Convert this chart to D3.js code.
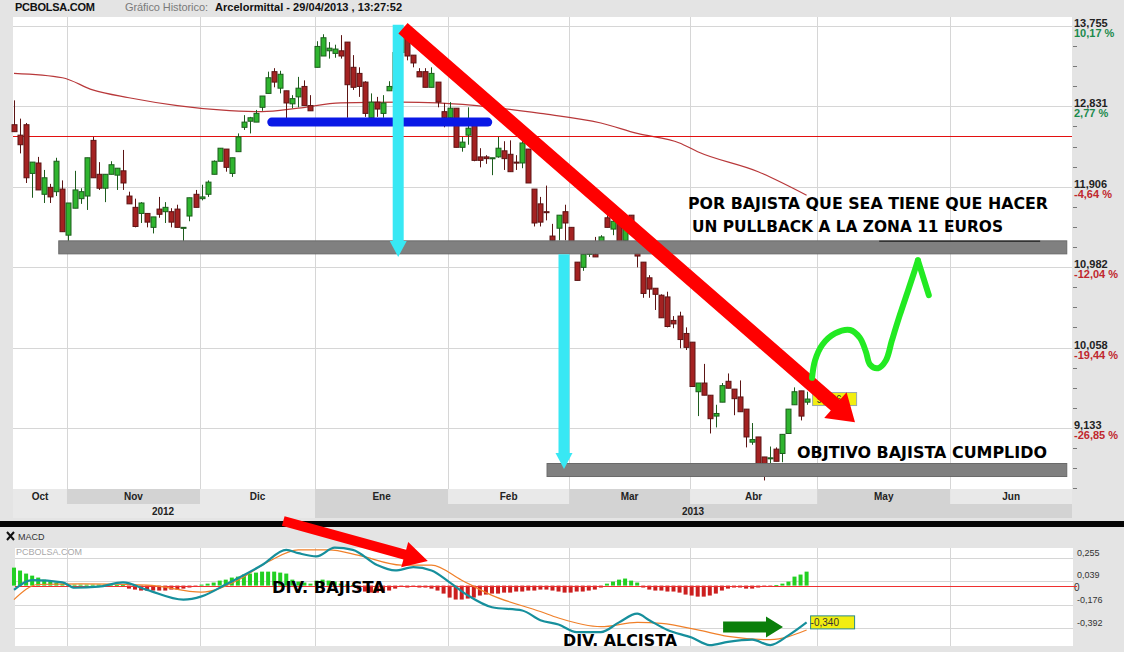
<!DOCTYPE html>
<html>
<head>
<meta charset="utf-8">
<title>Arcelormittal - PCBOLSA</title>
<script src="https://cdn.jsdelivr.net/npm/d3@7"></script>
<style>
body { margin: 0; background: #e4e4e4; }
svg { display: block; font-family: "Liberation Sans", Arial, sans-serif; }
</style>
</head>
<body>
<svg id="chart" width="1124" height="652"></svg>
<script>
// daily candles, one per trading day from 19/10/2012 to 29/04/2013
var opens = [12.62,12.50,12.62,12.06,12.18,11.82,11.90,11.85,11.88,11.35,11.66,11.77,11.80,12.44,12.05,11.89,12.05,12.04,12.09,11.80,
  11.67,11.60,11.60,11.44,11.65,11.62,11.62,11.65,11.43,11.57,11.82,11.77,11.82,12.05,12.20,12.34,12.06,12.31,12.59,12.66,
  12.65,12.82,12.98,13.23,13.04,13.01,12.86,12.94,13.06,12.84,13.28,13.41,13.47,13.44,13.47,13.57,13.28,13.21,13.11,12.70,
  12.88,12.75,13.01,13.04,13.45,13.62,13.42,13.23,13.23,13.05,13.11,12.77,12.70,12.81,12.36,12.50,12.62,12.25,12.25,12.23,
  12.25,12.32,12.28,12.19,12.18,12.34,11.88,11.71,11.62,11.34,11.43,11.62,11.44,11.04,10.98,11.13,11.13,11.26,11.55,11.42,
  11.49,11.29,11.58,11.14,11.04,10.86,10.74,10.66,10.64,10.37,10.42,10.22,10.12,9.55,9.65,9.51,9.27,9.43,9.67,9.58,
  9.49,9.35,8.97,9.03,8.80,8.78,8.89,8.84,9.07,9.40,9.56,9.43];
var highs = [12.90,12.69,12.64,12.19,12.25,12.10,11.94,12.24,11.98,11.72,12.09,11.89,12.24,12.48,12.19,12.05,12.20,12.12,12.33,11.85,
  11.77,11.73,11.60,11.56,11.79,11.73,11.66,11.70,11.44,11.78,11.87,11.93,11.98,12.21,12.35,12.34,12.24,12.52,12.73,12.71,
  12.79,12.95,13.23,13.27,13.24,13.01,12.96,13.17,13.13,12.96,13.58,13.66,13.57,13.54,13.65,13.57,13.42,13.28,13.12,12.98,
  12.94,12.96,13.12,13.50,13.755,13.65,13.42,13.27,13.27,13.28,13.11,12.87,12.88,12.81,12.48,12.82,12.62,12.35,12.27,12.24,
  12.48,12.43,12.44,12.27,12.44,12.34,11.88,11.79,11.92,11.48,11.58,11.70,11.44,11.04,11.13,11.25,11.33,11.35,11.58,11.66,
  11.49,11.60,11.58,11.14,11.04,10.89,10.74,10.67,10.70,10.42,10.47,10.29,10.12,9.65,9.87,9.51,9.40,9.65,9.76,9.58,
  9.68,9.35,9.19,9.03,8.80,8.92,8.91,9.06,9.35,9.60,9.56,9.55];
var lows = [12.54,12.29,11.95,11.78,11.87,11.72,11.72,11.80,11.39,11.26,11.66,11.71,11.64,12.01,11.87,11.73,12.05,11.87,11.87,11.71,
  11.44,11.49,11.44,11.37,11.55,11.49,11.44,11.44,11.26,11.51,11.67,11.75,11.79,12.05,12.20,12.08,12.02,12.31,12.56,12.52,
  12.65,12.78,12.98,13.05,12.98,12.67,12.81,12.82,12.84,12.78,13.28,13.41,13.38,13.39,13.38,12.70,13.02,12.94,12.71,12.70,
  12.71,12.70,13.01,13.00,13.40,13.36,13.28,13.17,13.05,13.05,12.82,12.59,12.70,12.36,12.31,12.39,12.20,12.13,12.17,12.04,
  12.24,12.10,12.08,12.10,12.12,11.95,11.45,11.45,11.52,11.27,11.29,11.29,11.26,10.83,10.94,11.10,11.10,11.26,11.44,11.35,
  11.26,11.29,11.37,10.98,10.63,10.63,10.49,10.40,10.29,10.28,10.05,10.03,9.61,9.27,9.51,9.07,9.14,9.43,9.59,9.28,
  9.32,8.91,8.94,8.68,8.53,8.71,8.75,8.74,9.07,9.40,9.22,9.40];
var closes = [12.54,12.39,12.01,12.19,11.87,12.01,11.79,12.20,11.39,11.72,11.87,11.85,12.24,12.01,11.89,12.05,12.16,12.12,11.95,11.71,
  11.45,11.72,11.50,11.56,11.59,11.67,11.50,11.44,11.44,11.78,11.67,11.79,11.96,12.20,12.35,12.13,12.24,12.48,12.65,12.70,
  12.75,12.95,13.16,13.11,13.20,12.87,12.92,13.04,12.84,12.78,13.52,13.62,13.50,13.49,13.41,13.08,13.05,13.06,12.75,12.88,
  12.80,12.87,13.06,13.45,13.63,13.41,13.33,13.17,13.05,13.21,12.88,12.70,12.81,12.36,12.42,12.58,12.21,12.21,12.23,12.24,
  12.35,12.23,12.08,12.18,12.41,11.95,11.49,11.50,11.61,11.29,11.58,11.49,11.26,10.83,11.13,11.21,11.10,11.33,11.44,11.51,
  11.26,11.56,11.37,11.11,10.68,10.73,10.67,10.40,10.30,10.33,10.15,10.06,9.61,9.65,9.51,9.24,9.30,9.62,9.59,9.47,
  9.32,9.03,9.00,8.68,8.71,8.79,8.75,9.06,9.35,9.55,9.27,9.466];

// long moving average, read at a few days
var maIdx = [0, 8, 13, 19, 27, 34, 41, 47, 54, 64, 70, 79, 87, 97, 103, 110, 113, 123, 131];
var maVal = [13.21, 13.16, 13.02, 12.93, 12.84, 12.79, 12.77, 12.81, 12.87, 12.88, 12.87, 12.82, 12.75, 12.64, 12.52, 12.41, 12.31, 12.08, 11.81];

var priceTicks = [13.755, 12.831, 11.906, 10.982, 10.058, 9.133];
var refPrice = 12.485;   // base of the % labels (red line)
var lastPrice = 9.466;

var monthNames = ["Oct", "Nov", "Dic", "Ene", "Feb", "Mar", "Abr", "May", "Jun"];
var monthStart = [-0.17, 9, 31, 50, 72, 92, 112, 133, 155];
var yearNames = ["2012", "2013"];
var yearStart = [-0.17, 50];

// MACD panel
var macdIdx = [0,3,8,10,14,18,22,28,31,35,41,45,47,50,53,56,60,63,66,69,72,75,79,84,87,90,93,97,100,103,105,108,112,115,118,122,125,128,131];
var macdVal = [-0.04,0.05,0.03,-0.02,-0.01,0.03,-0.04,-0.13,-0.10,0.01,0.19,0.33,0.30,0.27,0.35,0.33,0.19,0.14,0.17,0.14,0.03,-0.09,-0.20,-0.23,-0.32,-0.36,-0.43,-0.43,-0.34,-0.26,-0.32,-0.41,-0.48,-0.55,-0.52,-0.50,-0.55,-0.46,-0.34];
var signalIdx = [0,4,11,22,31,37,42,47,52,57,64,69,74,79,87,90,97,103,107,113,118,125,131];
var signalVal = [-0.13,0.01,0.015,0.005,-0.06,0.05,0.22,0.33,0.33,0.28,0.19,0.19,0.05,-0.09,-0.24,-0.30,-0.38,-0.34,-0.35,-0.41,-0.47,-0.50,-0.41];
var histVals = [0.166,0.139,0.111,0.092,0.074,0.055,0.037,0.028,0.018,
  0.009,0.009,0.009,0.009,0.009,0.009,0.009,0.009,0.004,0.004,
  -0.028,-0.037,-0.046,-0.046,-0.046,-0.046,-0.046,-0.037,-0.037,-0.028,-0.018,-0.009,
  0.009,0.018,0.028,0.046,0.055,0.074,0.083,0.102,0.111,0.120,0.129,0.129,0.129,0.120,0.111,
  0.055,0.037,0.028,0.018,
  0.046,0.055,0.046,0.037,
  0.018,0.009,0.004,
  -0.037,-0.055,-0.065,-0.065,-0.055,-0.046,-0.028,
  -0.009,-0.018,-0.009,-0.018,-0.018,-0.028,
  -0.046,-0.074,-0.111,-0.129,-0.129,-0.120,-0.111,-0.092,-0.083,
  -0.074,-0.074,-0.065,-0.065,-0.055,-0.055,-0.046,-0.046,-0.037,-0.037,-0.046,-0.055,
  -0.065,-0.065,-0.055,-0.055,-0.046,-0.037,-0.018,
  0.018,0.037,0.055,0.065,0.046,0.028,
  -0.018,-0.037,-0.046,-0.046,-0.055,-0.055,-0.065,
  -0.083,-0.092,-0.102,-0.102,-0.092,-0.074,
  -0.046,-0.028,-0.018,-0.018,-0.028,-0.028,-0.018,-0.009,-0.009,
  0.004,0.018,0.037,0.083,0.102,0.129];
var macdTicks = [0.255, 0.039, -0.176, -0.392];
var lastMacd = -0.340;

// hand drawn marks, in (day index, price) units
var blueBar = {from: 42.6, to: 78.3, price: 12.65};
var greyBars = [{from: 7.4, to: 174, price: 11.21}, {from: 88.1, to: 174, price: 8.65}];
var cyanArrows = [{at: 63.5, from: 13.77, to: 11.10}, {at: 90.9, from: 11.13, to: 8.66}];
var redArrow = {i1: 64.3, p1: 13.73, i2: 139, p2: 9.20};
var greenIdx = [131.9, 132.4, 133.6, 135.7, 138.2, 139.8, 140.8, 141.5, 142.8, 144.1, 145.1, 146.4, 147.8, 148.8, 149.4];
var greenPrice = [9.71, 9.91, 10.09, 10.22, 10.26, 10.17, 10.01, 9.86, 9.82, 9.91, 10.14, 10.43, 10.72, 10.93, 11.06];

var svg = d3.select('#chart');
var plotL = 13, plotR = 1072, plotT = 17, plotB = 489;
var x = d3.scaleLinear().domain([0, 131]).range([14, 806.6]);
var y = d3.scaleLinear().domain([9.133, 13.755]).range([428, 26]);
var mT = 548, mB = 646, mL = 15, mR = 1073;
var yM = d3.scaleLinear().domain([-0.392, 0.255]).range([628, 558]);
var fmt = function(v, n) { return v.toFixed(n).replace('.', ','); };

svg.append('rect').attr('width', 1124).attr('height', 652).attr('fill', '#e4e4e4');

// header
svg.append('text').attr('x', 15).attr('y', 11).attr('font-size', 11).attr('font-weight', 'bold')
  .attr('fill', '#111').attr('textLength', 80).text('PCBOLSA.COM');
svg.append('text').attr('x', 125).attr('y', 11).attr('font-size', 11).attr('fill', '#7a7a7a')
  .attr('textLength', 83).text('Gráfico Historico:');
svg.append('text').attr('x', 215).attr('y', 11).attr('font-size', 11).attr('font-weight', 'bold')
  .attr('fill', '#111').attr('textLength', 187).text('Arcelormittal - 29/04/2013 , 13:27:52');

// price plot
svg.append('rect').attr('x', plotL).attr('y', plotT).attr('width', plotR - plotL).attr('height', plotB - plotT).attr('fill', '#fff');

var grid = svg.append('g').attr('stroke', '#d6d6d6').attr('stroke-width', 1);
monthStart.slice(1).forEach(function(m) {
  var gx = Math.round(x(m - 0.25)) + 0.5;
  grid.append('line').attr('x1', gx).attr('x2', gx).attr('y1', plotT).attr('y2', plotB);
});
priceTicks.forEach(function(p) {
  var gy = Math.round(y(p)) + 0.5;
  grid.append('line').attr('x1', plotL).attr('x2', plotR).attr('y1', gy).attr('y2', gy);
});

// right axis
var axis = svg.append('g');
var step = priceTicks[0] - priceTicks[1];
for (var k = 0; k < 27; k++) {
  var tp = priceTicks[0] - k * step / 4;
  var ty = Math.round(y(tp)) + 0.5;
  if (ty > plotB) break;
  if (k % 4 !== 0) axis.append('line').attr('x1', plotR + 1).attr('x2', plotR + 5).attr('y1', ty).attr('y2', ty).attr('stroke', '#777');
}
priceTicks.forEach(function(p) {
  var pct = (p / refPrice - 1) * 100;
  axis.append('text').attr('x', plotR + 2).attr('y', y(p) + 1).attr('font-size', 11).attr('font-weight', 'bold')
    .attr('fill', '#222').text(fmt(p, 3));
  axis.append('text').attr('x', plotR + 2).attr('y', y(p) + 11).attr('font-size', 11).attr('font-weight', 'bold')
    .attr('fill', pct >= 0 ? '#1b8a4c' : '#c0272d').text(fmt(pct, 2) + ' %');
});

// month / year band
var band = svg.append('g');
monthNames.forEach(function(name, k) {
  var x0 = k === 0 ? plotL : x(monthStart[k] - 0.25);
  var x1 = k === monthNames.length - 1 ? plotR : x(monthStart[k + 1] - 0.25);
  band.append('rect').attr('x', x0).attr('y', plotB).attr('width', x1 - x0).attr('height', 15)
    .attr('fill', k % 2 ? '#d3d3d3' : '#e9e9e9');
  band.append('text').attr('x', (x0 + x1) / 2).attr('y', plotB + 11).attr('text-anchor', 'middle')
    .attr('font-size', 10).attr('font-weight', 'bold').attr('fill', '#222').text(name);
});
yearNames.forEach(function(name, k) {
  var x0 = k === 0 ? plotL : x(yearStart[k] - 0.25);
  var x1 = k === yearNames.length - 1 ? plotR : x(yearStart[k + 1] - 0.25);
  band.append('rect').attr('x', x0).attr('y', plotB + 15).attr('width', x1 - x0).attr('height', 14)
    .attr('fill', k % 2 ? '#d3d3d3' : '#e9e9e9');
});
band.append('text').attr('x', 163).attr('y', plotB + 26).attr('text-anchor', 'middle').attr('font-size', 10)
  .attr('font-weight', 'bold').attr('fill', '#222').text(yearNames[0]);
band.append('text').attr('x', 693).attr('y', plotB + 26).attr('text-anchor', 'middle').attr('font-size', 10)
  .attr('font-weight', 'bold').attr('fill', '#222').text(yearNames[1]);

// moving average and reference line
var maPts = maIdx.map(function(d, k) { return [x(d), y(maVal[k])]; });
svg.append('path').attr('d', d3.line().curve(d3.curveMonotoneX)(maPts))
  .attr('fill', 'none').attr('stroke', '#b8383a').attr('stroke-width', 1.2);
svg.append('line').attr('x1', plotL).attr('x2', plotR).attr('y1', Math.round(y(refPrice)) + 0.5).attr('y2', Math.round(y(refPrice)) + 0.5)
  .attr('stroke', '#e31010').attr('stroke-width', 1);

// candles
var candles = svg.append('g');
opens.forEach(function(o, i) {
  var c = closes[i], up = c >= o;
  var cx = Math.round(x(i)) + 0.5;
  var edge = up ? '#1d5c1d' : '#5c1414';
  candles.append('line').attr('x1', cx).attr('x2', cx).attr('y1', y(highs[i])).attr('y2', y(lows[i]))
    .attr('stroke', edge).attr('stroke-width', 1);
  var top = y(Math.max(o, c)), h = Math.max(1, y(Math.min(o, c)) - top);
  candles.append('rect').attr('x', cx - 2.5).attr('y', top).attr('width', 5).attr('height', h)
    .attr('fill', up ? '#2fb52f' : '#a42222').attr('stroke', edge).attr('stroke-width', 1);
});

// last price tag
svg.append('rect').attr('x', x(131) + 6).attr('y', y(lastPrice) - 6.5).attr('width', 44).attr('height', 13)
  .attr('fill', '#f2ee10').attr('stroke', '#9aa').attr('stroke-width', 1);
svg.append('text').attr('x', x(131) + 10).attr('y', y(lastPrice) + 4).attr('font-size', 10).attr('fill', '#333')
  .text(fmt(lastPrice, 3));

// ---- hand drawn annotations ----
function arrowPath(x1, y1, x2, y2, w, hl, hw) {
  var dx = x2 - x1, dy = y2 - y1, len = Math.sqrt(dx * dx + dy * dy);
  var ux = dx / len, uy = dy / len, nx = -uy, ny = ux;
  var bx = x2 - ux * hl, by = y2 - uy * hl;
  var pts = [
    [x1 + nx * w / 2, y1 + ny * w / 2], [bx + nx * w / 2, by + ny * w / 2], [bx + nx * hw / 2, by + ny * hw / 2],
    [x2, y2], [bx - nx * hw / 2, by - ny * hw / 2], [bx - nx * w / 2, by - ny * w / 2], [x1 - nx * w / 2, y1 - ny * w / 2]
  ];
  return 'M' + pts.map(function(p) { return p[0].toFixed(1) + ',' + p[1].toFixed(1); }).join('L') + 'Z';
}

var ann = svg.append('g');
ann.append('line').attr('x1', x(blueBar.from)).attr('x2', x(blueBar.to)).attr('y1', y(blueBar.price)).attr('y2', y(blueBar.price))
  .attr('stroke', '#0a18e6').attr('stroke-width', 9).attr('stroke-linecap', 'round');
greyBars.forEach(function(b) {
  ann.append('rect').attr('x', x(b.from)).attr('y', y(b.price) - 6.5).attr('width', x(b.to) - x(b.from)).attr('height', 13)
    .attr('fill', '#808080').attr('stroke', '#6a6a6a').attr('stroke-width', 1);
});
ann.append('line').attr('x1', x(143)).attr('x2', x(169.6)).attr('y1', y(11.28)).attr('y2', y(11.28))
  .attr('stroke', '#333').attr('stroke-width', 1.5);
cyanArrows.forEach(function(a) {
  ann.append('path').attr('d', arrowPath(x(a.at), y(a.from), x(a.at), y(a.to), 11, 16, 17)).attr('fill', '#38e8f4');
});
ann.append('path').attr('d', arrowPath(x(redArrow.i1), y(redArrow.p1), x(redArrow.i2), y(redArrow.p2), 14, 26, 34))
  .attr('fill', '#ff0000');

var gPts = greenIdx.map(function(d, k) { return [x(d), y(greenPrice[k])]; });
ann.append('path').attr('d', d3.line().curve(d3.curveCatmullRom)(gPts)).attr('fill', 'none')
  .attr('stroke', '#22ea22').attr('stroke-width', 6).attr('stroke-linecap', 'round').attr('stroke-linejoin', 'round');
ann.append('path').attr('d', d3.line()([[x(149.4), y(11.06)], [x(151.2), y(10.66)]])).attr('fill', 'none')
  .attr('stroke', '#22ea22').attr('stroke-width', 6).attr('stroke-linecap', 'round');

function bigText(t, tx, ty, w) {
  svg.append('text').attr('x', tx).attr('y', ty).attr('font-family', '"DejaVu Sans", sans-serif').attr('font-weight', 'bold')
    .attr('font-size', 15).attr('fill', '#000').attr('textLength', w).attr('lengthAdjust', 'spacingAndGlyphs').text(t);
}
bigText('POR BAJISTA QUE SEA TIENE QUE HACER', 688, 209, 360);
bigText('UN PULLBACK A LA ZONA 11 EUROS', 692, 232, 311);
bigText('OBJTIVO BAJISTA CUMPLIDO', 797, 458, 250);

// ---- MACD panel ----
svg.append('rect').attr('x', 0).attr('y', 521).attr('width', 1124).attr('height', 6).attr('fill', '#050505');
svg.append('rect').attr('x', mL).attr('y', mT).attr('width', mR - mL).attr('height', mB - mT).attr('fill', '#fff');
var mg = svg.append('g').attr('stroke', '#d6d6d6');
monthStart.slice(1).forEach(function(m) {
  var gx = Math.round(x(m - 0.25)) + 0.5;
  mg.append('line').attr('x1', gx).attr('x2', gx).attr('y1', mT).attr('y2', mB);
});
macdTicks.forEach(function(v) {
  var gy = Math.round(yM(v)) + 0.5;
  mg.append('line').attr('x1', mL).attr('x2', mR).attr('y1', gy).attr('y2', gy);
});
macdTicks.forEach(function(v) {
  var off = v === 0.039 ? -3 : -2;
  svg.append('text').attr('x', mR + 4).attr('y', yM(v) + off).attr('font-size', 9).attr('fill', '#333').text(fmt(v, 3));
});
svg.append('text').attr('x', mR + 1).attr('y', yM(0) + 5).attr('font-size', 10).attr('fill', '#333').text('0');

svg.append('text').attr('x', 18).attr('y', 540).attr('font-size', 9).attr('fill', '#333').text('MACD');
svg.append('path').attr('d', 'M7,532L14,540M14,532L7,540').attr('stroke', '#111').attr('stroke-width', 2);
svg.append('text').attr('x', 16).attr('y', 555).attr('font-size', 9).attr('fill', '#a8a8a8').text('PCBOLSA.COM');

var zeroY = Math.round(yM(0)) + 0.5;
histVals.forEach(function(v, i) {
  var y0 = yM(0), y1 = yM(v);
  svg.append('rect').attr('x', x(i) - 2).attr('y', Math.min(y0, y1)).attr('width', 4).attr('height', Math.max(1, Math.abs(y1 - y0)))
    .attr('fill', v >= 0 ? '#22d022' : '#cc1f1f');
});
svg.append('line').attr('x1', mL).attr('x2', mR + 4).attr('y1', zeroY).attr('y2', zeroY).attr('stroke', '#f03030');

var sigPts = signalIdx.map(function(d, k) { return [x(d), yM(signalVal[k])]; });
svg.append('path').attr('d', d3.line().curve(d3.curveMonotoneX)(sigPts)).attr('fill', 'none')
  .attr('stroke', '#f0802a').attr('stroke-width', 1.2);
var macdPts = macdIdx.map(function(d, k) { return [x(d), yM(macdVal[k])]; });
svg.append('path').attr('d', d3.line().curve(d3.curveMonotoneX)(macdPts)).attr('fill', 'none')
  .attr('stroke', '#168f9c').attr('stroke-width', 2.2);

svg.append('rect').attr('x', x(131) + 4).attr('y', yM(lastMacd) - 6.5).attr('width', 44).attr('height', 13)
  .attr('fill', '#f2ee10').attr('stroke', '#2a8a8a').attr('stroke-width', 1);
svg.append('text').attr('x', x(131) + 4).attr('y', yM(lastMacd) + 3.5).attr('font-size', 10).attr('fill', '#333')
  .text(fmt(lastMacd, 3));

// MACD annotations
svg.append('path').attr('d', arrowPath(x(44.5), yM(0.597), x(68.4), yM(0.227), 10, 24, 26)).attr('fill', '#ff0000');
svg.append('path').attr('d', arrowPath(x(117.2), yM(-0.383), x(127.1), yM(-0.383), 11, 17, 21)).attr('fill', '#0b7f0b');
bigText('DIV. BAJISTA', 272, 593, 113);
bigText('DIV. ALCISTA', 563, 646, 114);
</script>
</body>
</html>
